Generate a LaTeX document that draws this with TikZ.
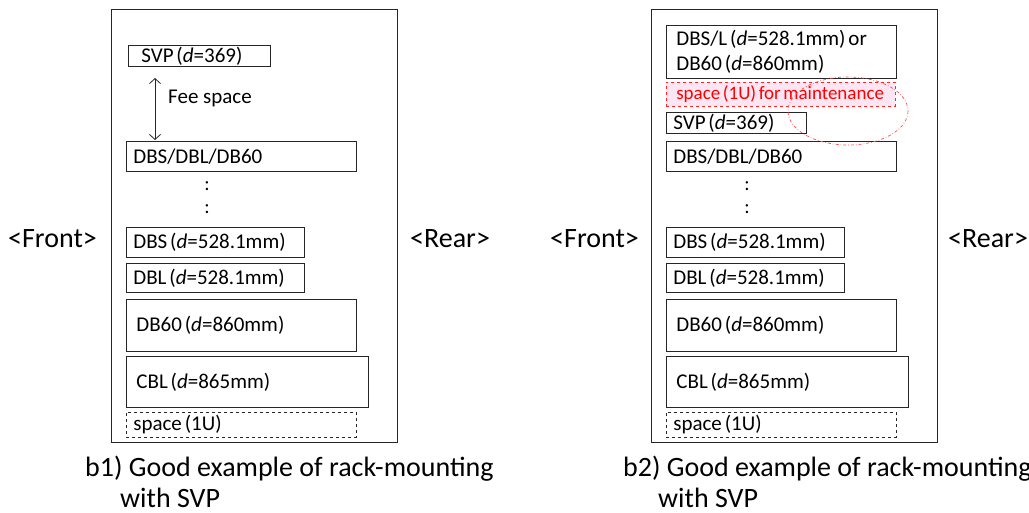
\documentclass[tikz,border=0pt]{standalone}
\usepackage{fontspec}
\setmainfont{Carlito}
\newfontfamily\boxfont{Carlito}[WordSpace=0.6]
\usetikzlibrary{arrows.meta}
\begin{document}
\begin{tikzpicture}[x=1pt,y=-1pt,
  rackbox/.style={draw=black!85, line width=0.8pt},
  unit/.style={draw=black!85, line width=0.8pt, anchor=north west, align=flush left, inner xsep=7pt, inner ysep=0pt, font=\boxfont\fontsize{21}{25}\selectfont},
  spacebox/.style={unit, dashed, line width=0.6pt},
  maint/.style={unit, dashed, draw=red!85, fill=magenta!10, text=red, line width=0.6pt, font=\boxfont\fontsize{19}{22}\selectfont, inner xsep=10pt},
  side/.style={font=\fontsize{28}{32}\selectfont, anchor=base west, inner sep=0pt},
  captext/.style={font=\fontsize{28}{32}\selectfont, anchor=base west, inner sep=0pt},
  dots/.style={font=\fontsize{20}{23}\selectfont, inner sep=0pt, align=center},
]
\useasboundingbox (0,0) rectangle (1029,512);

% ---------- left rack ----------
\node[rackbox, anchor=north west, minimum width=286pt, minimum height=433pt, inner sep=0pt] (rackL) at (111,9) {};
\node[unit, minimum height=21pt, inner xsep=13pt, text width=116pt] (svpL) at (128,45) {SVP (\textit{d}=369)};
\coordinate (fa) at (155,78);
\coordinate (fb) at (155,140);
\draw[black!85, line width=0.8pt, {Straight Barb[length=5pt,width=11pt]}-{Straight Barb[length=5pt,width=11pt]}] (fa) -- (fb);
\node[font=\fontsize{21}{24}\selectfont, anchor=west, inner sep=0pt] (feeL) at (168,98) {Fee space};
\node[unit, minimum height=30pt, text width=216pt] (mixL) at (126,141) {DBS/DBL/DB60};
\node[dots] (dotsL) at (207,198) {:\\:};
\node[unit, minimum height=30pt, text width=164pt] (dbsL) at (126,227) {DBS (\textit{d}=528.1mm)};
\node[unit, minimum height=29pt, text width=164pt] (dblL) at (126,263) {DBL (\textit{d}=528.1mm)};
\node[unit, minimum height=52pt, inner xsep=10pt, text width=210pt] (db60L) at (126,299) {DB60 (\textit{d}=860mm)};
\node[unit, minimum height=51pt, text width=222pt, inner xsep=10pt] (cblL) at (126,356) {CBL (\textit{d}=865mm)};
\node[spacebox, minimum height=25pt, text width=216pt] (spL) at (126,412) {space (1U)};
\node[side] (frontL) at (8,247) {<Front>};
\node[side] (rearL) at (410,247) {<Rear>};
\node[captext] (capL1) at (85,476) {b1) Good example of rack-mounting};
\node[captext] (capL2) at (120,507) {with SVP};

% ---------- right rack ----------
\node[rackbox, anchor=north west, minimum width=286pt, minimum height=433pt, inner sep=0pt] (rackR) at (651,9) {};
\node[unit, minimum height=53pt, inner xsep=10pt, text width=210pt] (topR) at (666,25) {DBS/L (\textit{d}=528.1mm) or\\DB60 (\textit{d}=860mm)};
\node[maint, minimum height=24pt, text width=209pt] (mR) at (666,82) {space (1U) for maintenance};
\node[unit, minimum height=21pt, text width=126pt] (svpR) at (666,112) {SVP (\textit{d}=369)};
\node[unit, minimum height=30pt, text width=216pt] (mixR) at (666,141) {DBS/DBL/DB60};
\node[dots] (dotsR) at (747,198) {:\\:};
\node[unit, minimum height=30pt, text width=164pt] (dbsR) at (666,227) {DBS (\textit{d}=528.1mm)};
\node[unit, minimum height=29pt, text width=164pt] (dblR) at (666,263) {DBL (\textit{d}=528.1mm)};
\node[unit, minimum height=52pt, inner xsep=10pt, text width=210pt] (db60R) at (666,299) {DB60 (\textit{d}=860mm)};
\node[unit, minimum height=51pt, text width=222pt, inner xsep=10pt] (cblR) at (666,356) {CBL (\textit{d}=865mm)};
\node[spacebox, minimum height=25pt, text width=216pt] (spR) at (666,412) {space (1U)};
\node[side] (frontR) at (550,247) {<Front>};
\node[side] (rearR) at (948,247) {<Rear>};
\node[captext] (capR1) at (623,476) {b2) Good example of rack-mounting};
\node[captext] (capR2) at (658,507) {with SVP};

\draw[red!70, line width=0.7pt, dash dot] (848,111) ellipse [x radius=60, y radius=34];
\end{tikzpicture}
\end{document}
